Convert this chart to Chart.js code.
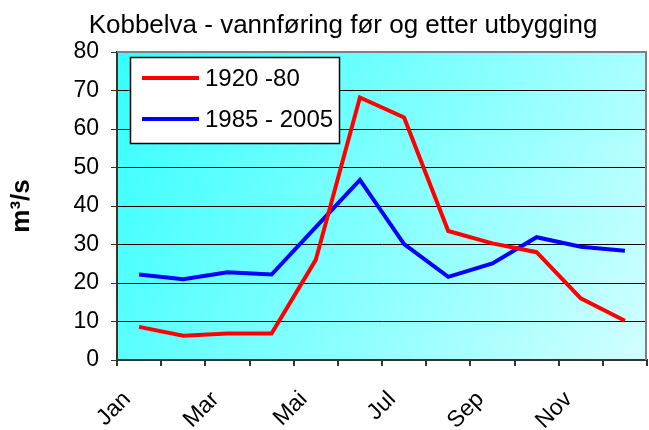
<!DOCTYPE html>
<html><head><meta charset="utf-8">
<script src="https://cdn.jsdelivr.net/npm/chart.js@4/dist/chart.umd.min.js"></script>
<style>html,body{margin:0;padding:0;background:#fff}#wrap{width:649px;height:430px}</style>
</head><body><div id="wrap"><canvas id="c" width="649" height="430"></canvas></div>
<script>
const TITLE = 'Kobbelva - vannføring før og etter utbygging';
const Y_TITLE = 'm³/s';
const MONTHS = ['Jan','Feb','Mar','Apr','Mai','Jun','Jul','Aug','Sep','Okt','Nov','Des'];
const SERIES_1_LABEL = '1920 -80';
const SERIES_1 = [8.6, 6.3, 6.9, 6.9, 26, 68.2, 63, 33.5, 30.3, 28, 16, 10.2];
const SERIES_2_LABEL = '1985 - 2005';
const SERIES_2 = [22.2, 21, 22.8, 22.2, 34.5, 46.8, 30.1, 21.6, 25.1, 31.9, 29.4, 28.4];
const Y_MIN = 0, Y_MAX = 80, Y_STEP = 10;

const FONT = "'Liberation Sans', Arial, sans-serif";

const bgPlugin = {
  id: 'bg',
  beforeDraw(chart) {
    const {ctx, chartArea: a} = chart;
    const g = ctx.createLinearGradient(a.left, a.top, a.right, a.bottom);
    g.addColorStop(0, '#33FFFF');
    g.addColorStop(1, '#D2FFFF');
    ctx.save();
    ctx.fillStyle = g;
    ctx.fillRect(a.left, a.top, a.right - a.left, a.bottom - a.top);
    ctx.restore();
  }
};

const framePlugin = {
  id: 'frame',
  beforeDatasetsDraw(chart) {
    const {ctx, chartArea: a} = chart;
    ctx.save();
    ctx.strokeStyle = '#808080';
    ctx.lineWidth = 2;
    ctx.beginPath();
    ctx.moveTo(a.left, a.top);
    ctx.lineTo(a.right - 1, a.top);
    ctx.lineTo(a.right - 1, a.bottom);
    ctx.stroke();
    ctx.restore();
  }
};

const legendPlugin = {
  id: 'boxLegend',
  afterDraw(chart) {
    const {ctx, chartArea: a} = chart;
    const x = a.left + 13, y = a.top + 5, w = 209, h = 86;
    ctx.save();
    ctx.fillStyle = '#fff';
    ctx.fillRect(x, y, w, h);
    ctx.strokeStyle = '#000';
    ctx.lineWidth = 1.5;
    ctx.strokeRect(x + 0.5, y + 0.5, w, h);
    ctx.font = '24px ' + FONT;
    ctx.textBaseline = 'middle';
    ctx.fillStyle = '#000';
    chart.data.datasets.forEach((ds, i) => {
      const cy = y + 21 + i * 41;
      ctx.strokeStyle = ds.borderColor;
      ctx.lineWidth = 4;
      ctx.beginPath();
      ctx.moveTo(x + 12, cy);
      ctx.lineTo(x + 69, cy);
      ctx.stroke();
      ctx.fillText(ds.label, x + 75, cy + 1);
    });
    ctx.restore();
  }
};

const titlePlugin = {
  id: 'ownTitle',
  afterDraw(chart) {
    const {ctx} = chart;
    ctx.save();
    ctx.font = '26px ' + FONT;
    ctx.fillStyle = '#000';
    ctx.textAlign = 'center';
    ctx.textBaseline = 'alphabetic';
    ctx.fillText(TITLE, 343, 33);
    ctx.restore();
  }
};

new Chart(document.getElementById('c'), {
  type: 'line',
  data: {
    labels: MONTHS,
    datasets: [
      {label: SERIES_1_LABEL, data: SERIES_1, borderColor: '#FF0000', backgroundColor: '#FF0000', borderWidth: 4, pointRadius: 0, tension: 0, fill: false},
      {label: SERIES_2_LABEL, data: SERIES_2, borderColor: '#0000FF', backgroundColor: '#0000FF', borderWidth: 4, pointRadius: 0, tension: 0, fill: false}
    ]
  },
  options: {
    responsive: false,
    animation: false,
    devicePixelRatio: 1,
    layout: {padding: {left: 0, right: 2, top: 52, bottom: 0}},
    plugins: {legend: {display: false}, title: {display: false}, tooltip: {enabled: false}},
    scales: {
      x: {
        offset: true,
        afterFit(s) { s.height = 70; s.paddingLeft = 0; s.paddingRight = 0; },
        border: {display: true, color: '#333', width: 2},
        grid: {offset: true, drawOnChartArea: false, drawTicks: true, tickLength: 6, color: '#333', lineWidth: 2},
        ticks: {
          autoSkip: false, maxRotation: 45, minRotation: 45, padding: 20, labelOffset: -12,
          color: '#000', font: {family: FONT, size: 23},
          callback: (v, i) => (i % 2 === 0 ? MONTHS[i] : '')
        }
      },
      y: {
        min: Y_MIN, max: Y_MAX,
        afterFit(s) { s.width = 117; },
        border: {display: true, color: '#333', width: 2},
        grid: {
          drawTicks: true, tickLength: 6, lineWidth: 1,
          color: (c) => (c.tick && c.tick.value === Y_MAX ? 'rgba(0,0,0,0)' : '#000'),
          tickColor: '#333'
        },
        ticks: {stepSize: Y_STEP, padding: 12, color: '#000', font: {family: FONT, size: 23}},
        title: {display: true, text: Y_TITLE, color: '#000', font: {family: FONT, size: 26, weight: 'bold'}, padding: {top: 6, bottom: 0}}
      }
    }
  },
  plugins: [bgPlugin, framePlugin, legendPlugin, titlePlugin]
});
</script>
</body></html>
